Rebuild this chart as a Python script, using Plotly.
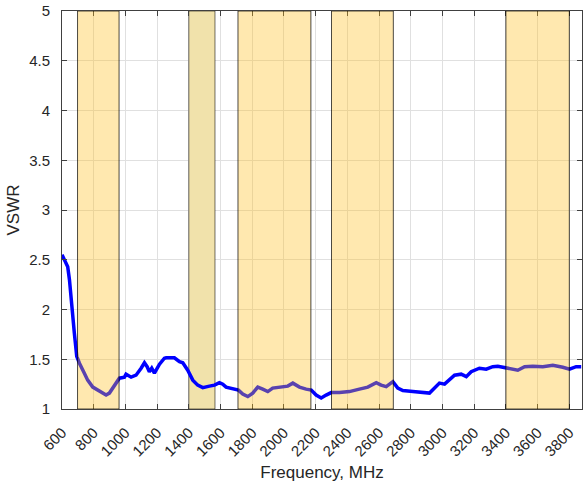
import plotly.graph_objects as go

# Frequency (MHz) and VSWR values
freq = [600, 626, 636, 647, 657, 668, 678, 693, 710, 741, 762, 794, 825, 857, 878, 899,
        920, 941, 962, 994, 1004, 1036, 1067, 1099, 1120, 1137, 1151, 1166, 1183, 1215,
        1246, 1257, 1288, 1309, 1341, 1362, 1393, 1425, 1456, 1488, 1530, 1562, 1593,
        1614, 1635, 1677, 1713, 1740, 1772, 1803, 1835, 1866, 1898, 1929, 1971, 2024,
        2056, 2098, 2140, 2172, 2203, 2235, 2266, 2298, 2350, 2413, 2476, 2529, 2582,
        2613, 2645, 2687, 2718, 2750, 2813, 2876, 2918, 2950, 2981, 3013, 3044, 3076,
        3118, 3150, 3181, 3233, 3276, 3317, 3349, 3380, 3423, 3475, 3518, 3570, 3633,
        3696, 3759, 3801, 3843, 3875]
vswr = [2.55, 2.46, 2.43, 2.30, 2.10, 1.93, 1.76, 1.53, 1.46, 1.36, 1.29, 1.22, 1.19, 1.16,
        1.14, 1.16, 1.21, 1.27, 1.31, 1.32, 1.35, 1.32, 1.34, 1.41, 1.465, 1.425, 1.375,
        1.41, 1.36, 1.45, 1.51, 1.515, 1.51, 1.515, 1.475, 1.465, 1.39, 1.29, 1.24, 1.215,
        1.23, 1.24, 1.265, 1.25, 1.22, 1.20, 1.19, 1.15, 1.125, 1.16, 1.22, 1.20, 1.175,
        1.21, 1.22, 1.23, 1.26, 1.22, 1.20, 1.19, 1.14, 1.11, 1.14, 1.165, 1.165, 1.175,
        1.20, 1.22, 1.265, 1.24, 1.225, 1.275, 1.21, 1.185, 1.175, 1.165, 1.16, 1.21,
        1.26, 1.25, 1.29, 1.34, 1.35, 1.325, 1.375, 1.41, 1.40, 1.425, 1.43, 1.42, 1.41,
        1.39, 1.425, 1.43, 1.425, 1.44, 1.42, 1.40, 1.425, 1.425]

# Highlighted frequency bands (MHz)
band_start = [698, 1710, 2300, 3400]
band_end = [960, 2170, 2690, 3800]
mid_band_start = [1400]
mid_band_end = [1565]

x_ticks = list(range(600, 3801, 200))
y_ticks = [1, 1.5, 2, 2.5, 3, 3.5, 4, 4.5, 5]
y_tick_text = ["1", "1.5", "2", "2.5", "3", "3.5", "4", "4.5", "5"]

FONT = "Liberation Sans, Arial, sans-serif"

fig = go.Figure()
fig.add_trace(go.Scatter(x=freq, y=vswr, mode="lines",
                         line=dict(color="#0000FF", width=3.5),
                         showlegend=False, hoverinfo="skip"))

shapes = []
for a, b in zip(mid_band_start, mid_band_end):
    shapes.append(dict(type="rect", xref="x", yref="y", x0=a, x1=b, y0=1, y1=5,
                       layer="between", fillcolor="#F1E2AB",
                       line=dict(color="rgba(0,0,0,0.55)", width=1)))
for a, b in zip(band_start, band_end):
    shapes.append(dict(type="rect", xref="x", yref="y", x0=a, x1=b, y0=1, y1=5,
                       layer="above", fillcolor="rgba(255,189,26,0.35)",
                       line=dict(color="rgba(0,0,0,0.7)", width=1)))

axis_common = dict(showline=True, linecolor="#404040", linewidth=1, mirror="ticks",
                   ticks="inside", ticklen=5, tickcolor="#404040",
                   showgrid=True, gridcolor="#E0E0E0", gridwidth=1, zeroline=False,
                   ticklabelstandoff=8,
                   tickfont=dict(family=FONT, size=15, color="#262626"))

fig.update_layout(
    width=583, height=485,
    margin=dict(l=62, r=1, t=11, b=76),
    paper_bgcolor="white", plot_bgcolor="white",
    shapes=shapes,
    xaxis=dict(range=[600, 3880], tickvals=x_ticks, ticktext=[str(v) for v in x_ticks],
               tickangle=-45,
               title=dict(text="Frequency, MHz", standoff=7,
                          font=dict(family=FONT, size=17, color="#262626")),
               **axis_common),
    yaxis=dict(range=[1, 5], tickvals=y_ticks, ticktext=y_tick_text,
               title=dict(text="VSWR", standoff=5,
                          font=dict(family=FONT, size=17, color="#262626")),
               **axis_common),
)

fig.write_html("out.html", config={"displayModeBar": False},
               post_script="document.body.style.margin='0';document.body.style.padding='0';")
